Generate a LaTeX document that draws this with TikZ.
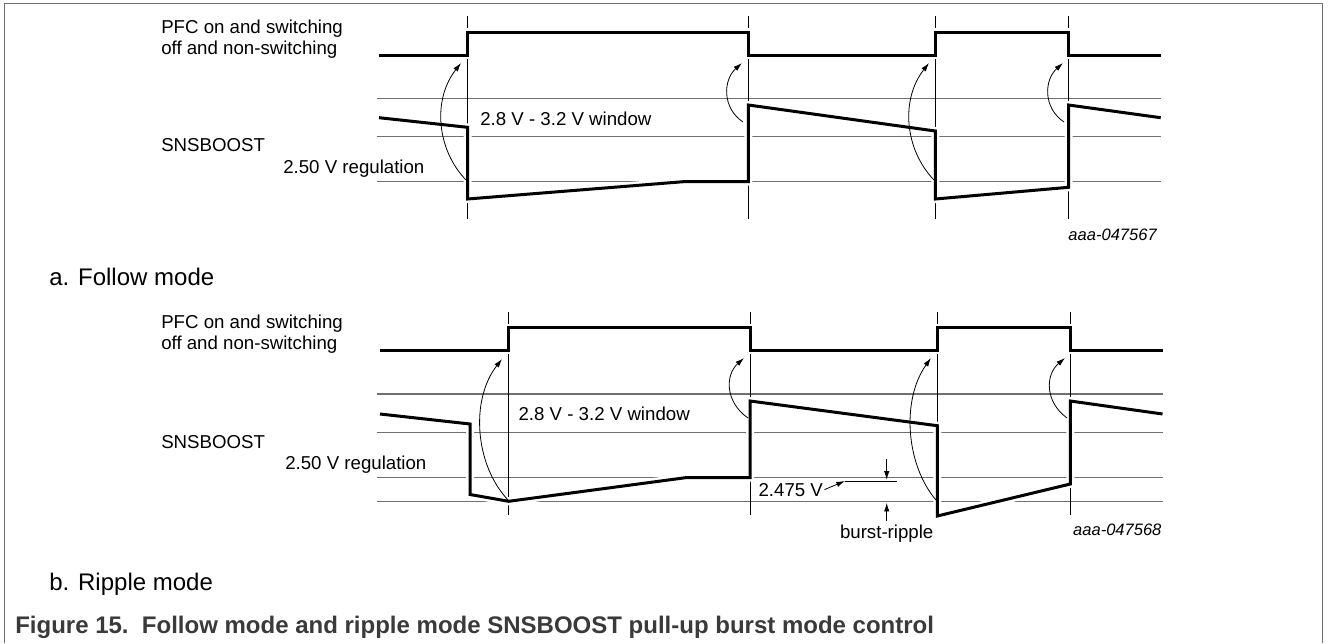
\documentclass[tikz,border=0pt]{standalone}
\usepackage{fontspec}
\setmainfont{Liberation Sans}
\usetikzlibrary{arrows.meta}
\definecolor{framegray}{HTML}{6E6E6E}
\definecolor{gridgray}{HTML}{707070}
\definecolor{captiongray}{HTML}{3A3A3A}
\tikzset{
    % Le style pour les signaux : trait epais avec un halo blanc
    signal/.style={
        line width=2.25pt,
        line join=miter,
        preaction={draw=white, line width=6pt}
    },
    % Les lignes de niveau (grises, fines)
    gridline/.style={draw=gridgray, line width=0.9pt},
    % Les reperes verticaux des commutations
    marker/.style={draw=black, line width=0.7pt},
    % Les fleches courbes de transition
    transition/.style={line width=0.6pt, -{Latex[length=6.5pt,width=4pt]}},
    dimarrow/.style={line width=0.6pt, -{Latex[length=6.5pt,width=4pt]}},
    % Les textes
    sigtext/.style={font=\fontsize{14}{16}\selectfont, inner sep=0pt, anchor=base west},
    figid/.style={font=\fontsize{12.4}{14}\selectfont\itshape, inner sep=0pt, anchor=base east},
    subtitle/.style={font=\fontsize{18}{21}\selectfont, inner sep=0pt, anchor=base west}
}
\begin{document}
\begin{tikzpicture}[x=0.75pt, y=-0.75pt]
        \useasboundingbox (0,0) rectangle (1328,643);

        % --- 0. Cadre ---
        \draw[framegray, line width=1.1pt] (4.5,643) -- (4.5,3.5) -- (1322.5,3.5) -- (1322.5,643);

        % --- 1. Mode suivi (a) ---
        % Lignes de niveau et reperes
        \foreach \y in {98.3, 136.7, 181.7}
            \draw[gridline] (377,\y) -- (1160.7,\y);
        \foreach \x in {467.5, 748.3, 935.3, 1068.5}
            \draw[marker] (\x,16) -- (\x,219);

        % Signaux PFC et SNSBOOST
        \draw[signal] (379,55) -- (467.5,55) -- (467.5,32) -- (748.3,32) -- (748.3,55)
            -- (935.3,55) -- (935.3,32) -- (1068.5,32) -- (1068.5,55) -- (1160.7,55);
        \draw[signal] (379,117.7) -- (467.5,127.3) -- (467.5,199) -- (683.3,181.7) -- (748.3,181.7)
            -- (748.3,105) -- (935.3,131) -- (935.3,199) -- (1068.5,187.3) -- (1068.5,105) -- (1160.7,117.7);

        % Fleches de transition
        \draw[transition] (466,180) .. controls (437,150) and (432,100) .. (461,63);
        \draw[transition] (743,122) .. controls (722,108) and (723,80) .. (742,63);
        \draw[transition] (934,180) .. controls (905,150) and (900,100) .. (929,63);
        \draw[transition] (1064,122) .. controls (1043,108) and (1044,80) .. (1063,63);

        % Textes
        \node[sigtext] (pfcOnA) at (161,33.3) {PFC on and switching};
        \node[sigtext] (pfcOffA) at (161,54) {off and non-switching};
        \node[sigtext] (snsA) at (161,151.7) {SNSBOOST};
        \node[sigtext] (regA) at (283,173.3) {2.50 V regulation};
        \node[sigtext] (winA) at (480,125) {2.8 V - 3.2 V window};
        \node[figid] (idA) at (1157,240.7) {aaa-047567};
        \node[subtitle] (titleA) at (49,285) {a. Follow mode};

        % --- 2. Mode ondulation (b) ---
        \foreach \y in {394, 432.7, 477.7, 501.7}
            \draw[gridline] (377,\y) -- (1162.5,\y);
        \foreach \x in {508.7, 750, 937.3, 1070.3}
            \draw[marker] (\x,311.7) -- (\x,515);

        \draw[signal] (380,350) -- (508.7,350) -- (508.7,327.7) -- (750,327.7) -- (750,350)
            -- (937.3,350) -- (937.3,327.7) -- (1070.3,327.7) -- (1070.3,350) -- (1162.5,350);
        \draw[signal] (380,414) -- (470,424) -- (470,494.5) -- (508.7,501.3) -- (685.5,477.7) -- (750,477.7)
            -- (750,401) -- (937.3,425.7) -- (937.3,516) -- (1070.3,484) -- (1070.3,401) -- (1162.5,414);

        \draw[transition] (508,500) .. controls (475,465) and (470,400) .. (502,359);
        \draw[transition] (748,418) .. controls (725,402) and (725,375) .. (744,358);
        \draw[transition] (936,500) .. controls (906,465) and (901,400) .. (931,358);
        \draw[transition] (1067,418) .. controls (1045,402) and (1045,375) .. (1065,358);

        \node[sigtext] (pfcOnB) at (161,328.3) {PFC on and switching};
        \node[sigtext] (pfcOffB) at (161,349.5) {off and non-switching};
        \node[sigtext] (snsB) at (161,448.3) {SNSBOOST};
        \node[sigtext] (regB) at (285,469.3) {2.50 V regulation};
        \node[sigtext] (winB) at (518.3,420) {2.8 V - 3.2 V window};

        % Ondulation de rafale : 2.475 V
        \coordinate (rippleTop) at (845,481);
        \node[sigtext] (v2475) at (758.3,496) {2.475 V};
        \draw[dimarrow] ([xshift=1pt]v2475.east) -- (rippleTop);
        \draw[line width=0.6pt] (rippleTop) -- (897,481);
        \draw[dimarrow] (886.7,459) -- (886.7,479.8);
        \node[sigtext, anchor=base] (burst) at (886.7,538.3) {burst-ripple};
        \draw[dimarrow] ([yshift=3pt]burst.north) -- (886.7,502.8);
        \node[figid] (idB) at (1161.7,535) {aaa-047568};
        \node[subtitle] (titleB) at (49,590) {b. Ripple mode};

        % --- 3. Legende ---
        \node[font=\fontsize{18}{21}\selectfont\bfseries, text=captiongray, inner sep=0pt, anchor=base west]
            (caption) at (15,633.3) {Figure 15.\ \ Follow mode and ripple mode SNSBOOST pull-up burst mode control};
    \end{tikzpicture}
\end{document}
